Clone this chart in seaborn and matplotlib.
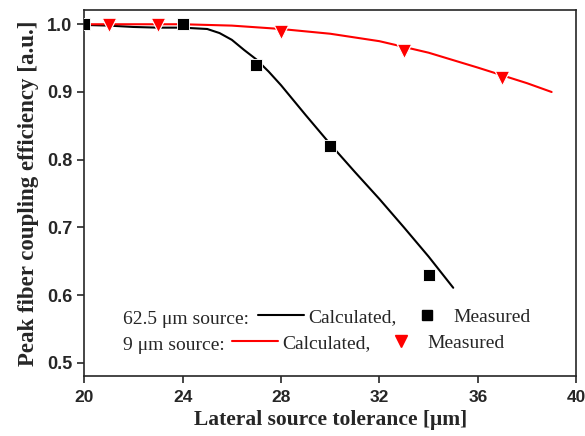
import numpy as np
import pandas as pd
import matplotlib
matplotlib.use("Agg")
import matplotlib.pyplot as plt
from matplotlib.lines import Line2D
import seaborn as sns

# calculated curves
mm_x = [20, 21, 22, 23, 24, 25, 25.5, 26, 26.5, 27, 27.5, 28, 29, 30, 31, 32, 33, 34, 35]
mm_y = [0.999, 0.998, 0.996, 0.995, 0.995, 0.993, 0.987, 0.977, 0.962, 0.948, 0.930,
        0.910, 0.866, 0.823, 0.782, 0.742, 0.700, 0.657, 0.611]
sm_x = [20, 22, 24, 26, 28, 30, 32, 34, 36, 38, 39]
sm_y = [1.000, 1.000, 1.000, 0.998, 0.993, 0.986, 0.975, 0.958, 0.936, 0.913, 0.900]

# measured points
mm_meas_x = [20, 24, 27, 30, 34]
mm_meas_y = [1.000, 1.000, 0.940, 0.820, 0.630]
sm_meas_x = [21, 23, 28, 33, 37]
sm_meas_y = [0.999, 0.999, 0.989, 0.960, 0.920]

sns.set_style("ticks")
fig, ax = plt.subplots(figsize=(5.85, 4.36), dpi=100)
fig.subplots_adjust(left=0.144, right=0.985, top=0.977, bottom=0.138)

sns.lineplot(x=mm_x, y=mm_y, color="black", lw=1.5, ax=ax)
sns.lineplot(x=sm_x, y=sm_y, color="#ff0000", lw=1.5, ax=ax)
sns.scatterplot(x=mm_meas_x, y=mm_meas_y, marker="s", color="black", s=65, ax=ax, zorder=3)
sns.scatterplot(x=sm_meas_x, y=sm_meas_y, marker="v", color="#ff0000", s=110, ax=ax, zorder=3)

ax.set_xlim(20, 40)
ax.set_ylim(0.481, 1.021)
ax.set_xticks([20, 24, 28, 32, 36, 40])
ax.set_yticks([0.5, 0.6, 0.7, 0.8, 0.9, 1.0])
ax.set_yticklabels(["0.5", "0.6", "0.7", "0.8", "0.9", "1.0"])
for sp in ax.spines.values():
    sp.set_visible(True)
    sp.set_linewidth(1.2)
ax.tick_params(direction="out", length=5, width=1.2)
ax.tick_params(axis="x", labelsize=12.5, pad=5)
ax.tick_params(axis="y", labelsize=13)
for lab in ax.get_xticklabels() + ax.get_yticklabels():
    lab.set_fontweight("bold")
    lab.set_family("Liberation Sans")

ax.set_xlabel("Lateral source tolerance [\u03bcm]", fontsize=15.5, fontweight="bold",
              family="Liberation Serif", labelpad=4)
ax.set_ylabel("Peak fiber coupling efficiency [a.u.]", fontsize=16.5, fontweight="bold",
              family="Liberation Serif", labelpad=6)

# legend rows
lfont = {"family": "Liberation Serif", "size": 14}
ax.text(0.078, 0.153, "62.5 \u03bcm source:", transform=ax.transAxes, va="center", **lfont)
ax.text(0.078, 0.082, "9 \u03bcm source:", transform=ax.transAxes, va="center", **lfont)

h1 = [Line2D([], [], color="black", lw=1.5),
      Line2D([], [], color="black", marker="s", ls="none", markersize=7)]
h2 = [Line2D([], [], color="#ff0000", lw=1.5),
      Line2D([], [], color="#ff0000", marker="v", ls="none", markersize=9)]
common = dict(ncol=2, frameon=False, loc="center left", borderpad=0, borderaxespad=0,
              handlelength=2.37, handletextpad=0.2, columnspacing=0.36,
              prop={"family": "Liberation Serif", "size": 14})
leg1 = ax.legend(h1, ["Calculated,", "Measured"], bbox_to_anchor=(0.354, 0.160), **common)
ax.add_artist(leg1)
ax.legend(h2, ["Calculated,", "Measured"], bbox_to_anchor=(0.301, 0.089), **common)

fig.savefig("out.png", dpi=100)
